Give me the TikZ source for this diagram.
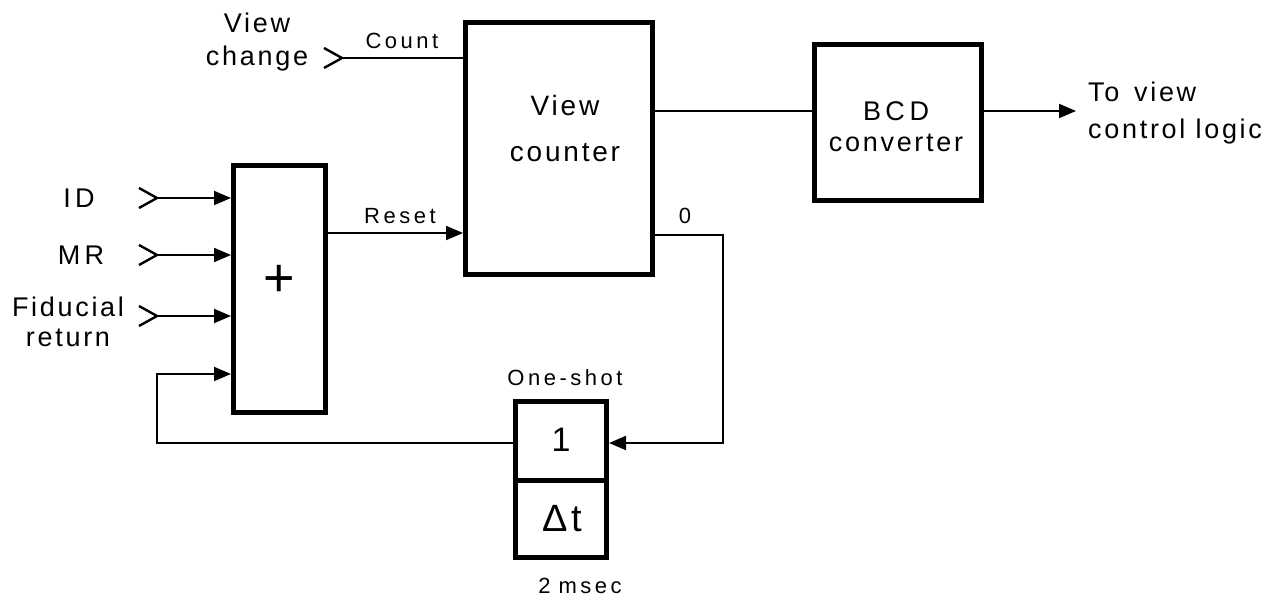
\documentclass[tikz,border=0pt]{standalone}
\usepackage{fontspec}
\usetikzlibrary{arrows.meta}
\newfontfamily\lf{Liberation Sans}[LetterSpace=10]
\newfontfamily\lfs{Liberation Sans}[LetterSpace=16]
\begin{document}
\begin{tikzpicture}[x=1pt,y=-1pt,
  blk/.style={draw, line width=5pt, rectangle, inner sep=0pt},
  wire/.style={line width=1.9pt},
  arr/.style={wire, -{Triangle[length=17pt,width=14pt]}},
  chev/.style={line width=2.4pt, line join=miter},
  big/.style={font=\lf\fontsize{27}{33}\selectfont, align=center, inner sep=0pt},
  small/.style={font=\lfs\fontsize{22}{25}\selectfont, inner sep=0pt}
]
\useasboundingbox (0,0) rectangle (1280,596);
% blocks
\node[blk, minimum width=187pt, minimum height=252pt] (vc) at (559,148.5) {};
\node[blk, minimum width=167pt, minimum height=156pt] (bcd) at (898,122.5) {};
\node[blk, minimum width=92pt, minimum height=247pt] (or) at (279.5,289) {};
\node[blk, minimum width=91pt, minimum height=156pt] (os) at (561,479.5) {};
\draw[line width=5pt] (os.west |- 0,480) -- (os.east |- 0,480);
% texts in blocks
\node[big, font=\lf\fontsize{28}{46}\selectfont] (vct) at (565,128) {View\\counter};
\node[big, font=\lf\fontsize{27}{31}\selectfont] (bcdt) at (896,127) {B\,C\,D\\converter};
\node[big, font=\lf\fontsize{54}{54}\selectfont] (plus) at (279.5,281) {+};
\node[big, font=\lf\fontsize{34}{34}\selectfont] (one) at (561,440) {1};
\node[big, font=\lf\fontsize{38}{38}\selectfont] (dt) at (562,519) {Δt};
% outer labels
\node[big] (vch) at (257,42) {View\\change};
\node[big, align=left, anchor=west, font=\lf\fontsize{27}{37}\selectfont] (out) at (1088,113) {To\, view\\control logic};
\node[big] (id) at (79,198) {I\,D};
\node[big] (mr) at (81,255) {M\,R};
\node[big, font=\lf\fontsize{27}{30}\selectfont] (fid) at (68,322) {Fiducial\\return};
\node[small] (cnt) at (402,41) {Count};
\node[small] (rst) at (400,216) {Reset};
\node[small] (zero) at (685,216) {0};
\node[small] (osl) at (565,378) {One-shot};
\node[small] (ms) at (580,586) {{2}\hspace{8pt}{msec}};
% input chevrons (tips)
\coordinate (cvch) at (342,58);
\coordinate (cid) at (157,198);
\coordinate (cmr) at (157,255);
\coordinate (cfid) at (157,316);
\foreach \c in {cvch,cid,cmr,cfid}{
  \draw[chev] ([shift={(-18pt,-10pt)}]\c) -- (\c) -- ([shift={(-18pt,10pt)}]\c);
}
% connectors
\draw[wire] (cvch) -- (vc.west |- cvch);
\draw[arr] (cid) -- (or.west |- cid);
\draw[arr] (cmr) -- (or.west |- cmr);
\draw[arr] (cfid) -- (or.west |- cfid);
\coordinate (rsty) at (0,233);
\draw[arr] (or.east |- rsty) -- (vc.west |- rsty);
\coordinate (bcdy) at (0,111);
\draw[wire] (vc.east |- bcdy) -- (bcd.west |- bcdy);
\coordinate (outend) at (1076,111);
\draw[arr] (bcd.east |- outend) -- (outend);
\coordinate (zy) at (0,235);
\coordinate (zx) at (723,443);
\draw[arr] (vc.east |- zy) -| (zx) -- (os.east |- zx);
\coordinate (fbx) at (157,443);
\coordinate (fby) at (0,374);
\draw[arr] (os.west |- fbx) -- (fbx) |- (or.west |- fby);
\end{tikzpicture}
\end{document}
